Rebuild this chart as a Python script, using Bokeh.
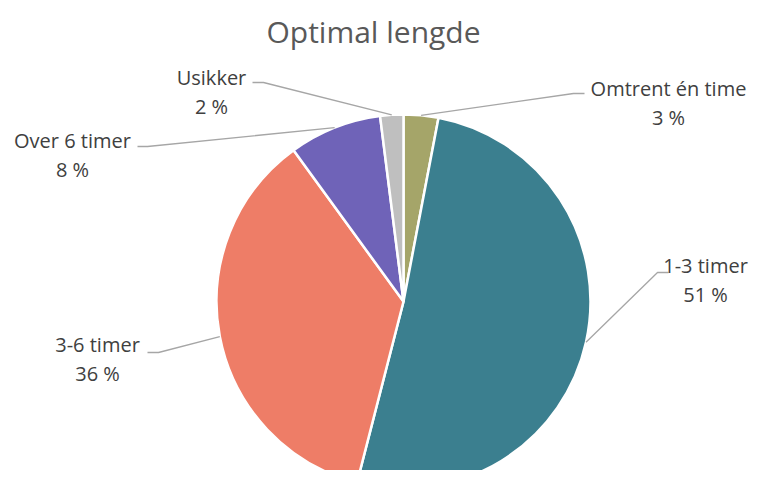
import math
from bokeh.plotting import figure
from bokeh.models import Range1d
from bokeh.core.properties import value
from bokeh.embed import file_html
from bokeh.resources import INLINE

# ---- data ----
categories = ["Omtrent én time", "1-3 timer", "3-6 timer", "Over 6 timer", "Usikker"]
shares = [3, 51, 36, 8, 2]
pct_labels = ["3 %", "51 %", "36 %", "8 %", "2 %"]
colors = ["#a5a569", "#3b7f8f", "#ee7d67", "#6f63b8", "#bfbfbf"]
title_text = "Optimal lengde"

# ---- layout (image pixel coordinates) ----
W, H = 752, 470
def Y(y):
    return H - y

cx, cy, R = 403, Y(301), 187
# label: (text center x, line1 center y, leader start x, leader elbow x, leader y)
label_layout = [
    (668, 88, 584, 573, 93),
    (705, 265, 668, 657, 272),
    (97, 344, 147, 158, 352),
    (72, 140, 137, 147, 146),
    (211, 77, 252, 263, 82),
]

p = figure(width=W, height=H, output_backend="svg", toolbar_location=None,
           x_range=Range1d(0, W), y_range=Range1d(0, H),
           min_border=0, outline_line_color=None)
p.axis.visible = False
p.grid.visible = False
p.background_fill_color = "white"
p.border_fill_color = "white"

total = float(sum(shares))
cum = 0.0
starts, ends, mids = [], [], []
for s in shares:
    a0 = math.pi / 2 - 2 * math.pi * cum / total
    cum += s
    a1 = math.pi / 2 - 2 * math.pi * cum / total
    starts.append(a0)
    ends.append(a1)
    mids.append((a0 + a1) / 2)

p.wedge(x=[cx] * len(shares), y=[cy] * len(shares), radius=R,
        start_angle=starts, end_angle=ends, direction="clock",
        fill_color=colors, line_color="white", line_width=2.5)

# leader lines
xs, ys = [], []
for (tx, ty, lx0, lx1, ly), m in zip(label_layout, mids):
    ex = cx + R * math.cos(m)
    ey = cy + R * math.sin(m)
    xs.append([lx0, lx1, ex])
    ys.append([Y(ly), Y(ly), ey])
p.multi_line(xs=xs, ys=ys, line_color="#a6a6a6", line_width=1.3)

font = value("Open Sans")
p.text(x=[l[0] for l in label_layout], y=[Y(l[1]) for l in label_layout],
       text=categories, text_font=font, text_font_size="20px",
       text_color="#404040", text_align="center", text_baseline="middle")
p.text(x=[l[0] for l in label_layout], y=[Y(l[1] + 29) for l in label_layout],
       text=pct_labels, text_font=font, text_font_size="20px",
       text_color="#404040", text_align="center", text_baseline="middle")

p.text(x=[373], y=[Y(31)], text=[title_text], text_font=font,
       text_font_size="30px", text_color="#595959",
       text_align="center", text_baseline="middle")

open("out.html", "w").write(file_html(p, INLINE))
